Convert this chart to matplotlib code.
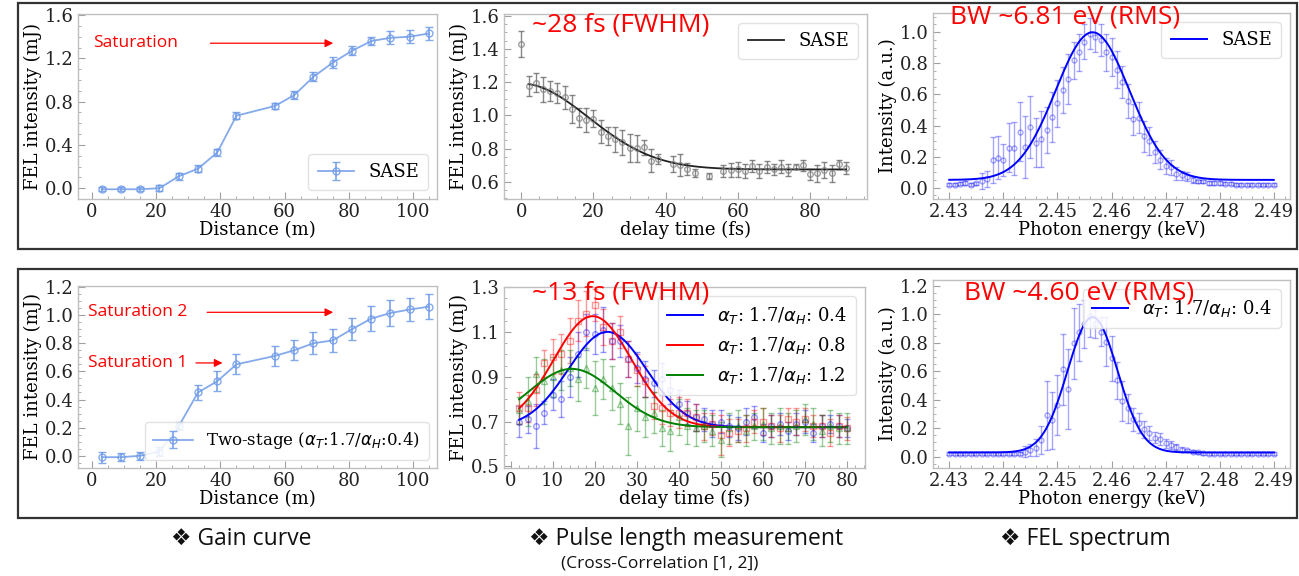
import numpy as np
import matplotlib
matplotlib.use('Agg')
import matplotlib.pyplot as plt
from matplotlib.ticker import MultipleLocator, AutoMinorLocator
from matplotlib.patches import Rectangle

# --- gain curve (distance in m, FEL intensity in mJ) ---
dist = [3, 9, 15, 21, 27, 33, 39, 45, 57, 63, 69, 75, 81, 87, 93, 99, 105]
gain_sase = [-0.01, -0.01, -0.01, 0.0, 0.11, 0.18, 0.33, 0.67, 0.76, 0.86,
             1.03, 1.16, 1.27, 1.36, 1.39, 1.40, 1.43]
gain_sase_err = [0.02, 0.02, 0.02, 0.03, 0.03, 0.03, 0.03, 0.03, 0.03, 0.04,
                 0.04, 0.05, 0.04, 0.04, 0.06, 0.06, 0.06]
gain_two = [-0.01, -0.01, 0.0, 0.03, 0.21, 0.45, 0.53, 0.65, 0.71, 0.75,
            0.80, 0.82, 0.90, 0.975, 1.015, 1.04, 1.06]
gain_two_err = [0.04, 0.03, 0.03, 0.03, 0.03, 0.05, 0.07, 0.07, 0.07, 0.07,
                0.08, 0.08, 0.08, 0.09, 0.09, 0.08, 0.09]

# --- SASE cross-correlation (delay in fs) ---
delay_sase = [0, 2, 4, 6, 8, 10, 12, 14, 16, 18, 20, 22, 24, 26, 28, 30, 32, 34,
              36, 38, 42, 44, 46, 48, 52, 56, 58, 60, 62, 64, 66, 68, 70, 72,
              74, 76, 78, 80, 82, 84, 86, 88, 90]
corr_sase = [1.43, 1.176, 1.196, 1.158, 1.144, 1.136, 1.108, 1.036, 0.986, 0.972,
             0.98, 0.901, 0.875, 0.855, 0.837, 0.801, 0.801, 0.807, 0.727, 0.737,
             0.704, 0.70, 0.676, 0.654, 0.634, 0.664, 0.67, 0.676, 0.664, 0.696,
             0.664, 0.69, 0.674, 0.69, 0.67, 0.69, 0.698, 0.646, 0.65, 0.67,
             0.65, 0.704, 0.684]
corr_sase_err = [0.078, 0.058, 0.056, 0.075, 0.06, 0.06, 0.07, 0.085, 0.058, 0.073,
                 0.052, 0.07, 0.055, 0.075, 0.075, 0.085, 0.08, 0.045, 0.07, 0.028,
                 0.048, 0.068, 0.038, 0.025, 0.02, 0.035, 0.04, 0.045, 0.04, 0.035,
                 0.043, 0.036, 0.035, 0.038, 0.035, 0.016, 0.033, 0.033, 0.053, 0.05,
                 0.05, 0.025, 0.035]
# fitted gaussian: offset, amplitude, centre, sigma ; fit range
fit_sase_delay = [0.674, 0.517, 0.0, 18.6]
fit_sase_delay_range = [2, 90]

# --- two-stage cross-correlation ---
delay_two = [2, 4, 6, 8, 10, 12, 14, 16, 18, 20, 22, 24, 26, 28, 30, 32, 34, 36, 38, 40,
             42, 44, 46, 48, 50, 52, 54, 56, 58, 60, 62, 64, 66, 68, 70, 72, 74, 76, 78, 80]
corr_04 = [0.70, 0.71, 0.68, 0.74, 0.82, 0.80, 0.90, 1.00, 1.10, 1.09,
           1.11, 1.06, 1.06, 0.98, 0.94, 0.89, 0.87, 0.89, 0.84, 0.78,
           0.74, 0.72, 0.71, 0.69, 0.70, 0.68, 0.67, 0.70, 0.72, 0.65,
           0.68, 0.69, 0.66, 0.69, 0.70, 0.65, 0.68, 0.69, 0.68, 0.67]
corr_04_err = [0.07, 0.06, 0.10, 0.05, 0.07, 0.08, 0.09, 0.10, 0.08, 0.09,
               0.10, 0.08, 0.07, 0.08, 0.07, 0.08, 0.06, 0.07, 0.06, 0.06,
               0.05, 0.06, 0.05, 0.06, 0.05, 0.05, 0.05, 0.06, 0.05, 0.04,
               0.05, 0.05, 0.04, 0.05, 0.05, 0.04, 0.05, 0.04, 0.05, 0.04]
corr_08 = [0.76, 0.76, 0.84, 0.96, 0.99, 1.00, 1.06, 1.15, 1.18, 1.22,
           1.12, 1.06, 1.10, 0.98, 0.93, 0.88, 0.77, 0.76, 0.74, 0.74,
           0.74, 0.72, 0.68, 0.69, 0.64, 0.65, 0.66, 0.67, 0.70, 0.70,
           0.68, 0.67, 0.71, 0.70, 0.71, 0.68, 0.68, 0.65, 0.68, 0.67]
corr_08_err = [0.07, 0.06, 0.07, 0.06, 0.08, 0.09, 0.10, 0.09, 0.10, 0.07,
               0.08, 0.08, 0.07, 0.08, 0.07, 0.07, 0.06, 0.07, 0.06, 0.07,
               0.06, 0.06, 0.06, 0.05, 0.09, 0.06, 0.05, 0.06, 0.05, 0.06,
               0.05, 0.06, 0.05, 0.06, 0.05, 0.05, 0.05, 0.06, 0.05, 0.05]
corr_12 = [0.75, 0.79, 0.91, 0.88, 0.90, 0.93, 0.94, 0.89, 0.94, 0.85,
           0.89, 0.85, 0.78, 0.68, 0.76, 0.72, 0.74, 0.67, 0.66, 0.72,
           0.68, 0.67, 0.68, 0.66, 0.62, 0.67, 0.68, 0.66, 0.68, 0.69,
           0.67, 0.68, 0.67, 0.68, 0.71, 0.69, 0.66, 0.68, 0.67, 0.67]
corr_12_err = [0.06, 0.11, 0.08, 0.10, 0.09, 0.09, 0.08, 0.10, 0.09, 0.12,
               0.09, 0.10, 0.09, 0.13, 0.10, 0.09, 0.09, 0.08, 0.09, 0.08,
               0.08, 0.08, 0.07, 0.07, 0.08, 0.07, 0.07, 0.07, 0.06, 0.07,
               0.07, 0.08, 0.07, 0.07, 0.07, 0.07, 0.07, 0.07, 0.07, 0.07]
fit_04 = [0.675, 0.425, 23.0, 9.3]
fit_08 = [0.675, 0.495, 19.5, 9.3]
fit_12 = [0.675, 0.26, 14.5, 10.3]
fit_two_range = [2, 80]

# --- FEL spectra (photon energy in keV) ---
energy = [round(2.430 + 0.001 * i, 3) for i in range(61)]
spec_sase = [0.02, 0.02, 0.024, 0.03, 0.02, 0.028, 0.043, 0.054, 0.178, 0.193,
             0.178, 0.258, 0.253, 0.36, 0.264, 0.388, 0.29, 0.311, 0.371, 0.457,
             0.543, 0.629, 0.697, 0.82, 0.87, 0.94, 0.99, 0.97, 0.95, 0.87,
             0.84, 0.76, 0.68, 0.56, 0.44, 0.45, 0.33, 0.30, 0.23, 0.18,
             0.14, 0.13, 0.09, 0.08, 0.07, 0.05, 0.04, 0.04, 0.03, 0.03,
             0.03, 0.025, 0.025, 0.02, 0.02, 0.02, 0.02, 0.02, 0.02, 0.02, 0.02]
spec_sase_err = [0.01, 0.01, 0.01, 0.01, 0.01, 0.01, 0.05, 0.05, 0.15, 0.14,
                 0.10, 0.16, 0.17, 0.19, 0.20, 0.20, 0.16, 0.18, 0.15, 0.16,
                 0.15, 0.15, 0.16, 0.12, 0.12, 0.11, 0.10, 0.10, 0.10, 0.12,
                 0.12, 0.12, 0.10, 0.11, 0.10, 0.10, 0.10, 0.09, 0.07, 0.06,
                 0.05, 0.05, 0.04, 0.03, 0.03, 0.02, 0.01, 0.01, 0.01, 0.01,
                 0.01, 0.01, 0.01, 0.01, 0.01, 0.01, 0.01, 0.01, 0.01, 0.01, 0.01]
spec_two = [0.02, 0.02, 0.02, 0.02, 0.02, 0.02, 0.02, 0.02, 0.02, 0.02,
            0.02, 0.02, 0.02, 0.02, 0.035, 0.047, 0.063, 0.117, 0.29, 0.257,
            0.363, 0.613, 0.475, 0.795, 0.872, 0.93, 0.99, 0.93, 0.877, 0.807,
            0.69, 0.538, 0.39, 0.34, 0.264, 0.234, 0.194, 0.164, 0.133, 0.124,
            0.094, 0.082, 0.07, 0.05, 0.047, 0.035, 0.03, 0.025, 0.02, 0.02,
            0.02, 0.02, 0.02, 0.02, 0.02, 0.02, 0.02, 0.02, 0.02, 0.02, 0.02]
spec_two_err = [0.01, 0.01, 0.01, 0.01, 0.01, 0.01, 0.01, 0.01, 0.01, 0.01,
                0.01, 0.01, 0.01, 0.01, 0.04, 0.04, 0.06, 0.10, 0.24, 0.20,
                0.21, 0.25, 0.28, 0.25, 0.20, 0.17, 0.15, 0.10, 0.10, 0.17,
                0.16, 0.13, 0.14, 0.10, 0.08, 0.07, 0.06, 0.05, 0.04, 0.04,
                0.03, 0.03, 0.02, 0.02, 0.01, 0.01, 0.01, 0.01, 0.01, 0.01,
                0.01, 0.01, 0.01, 0.01, 0.01, 0.01, 0.01, 0.01, 0.01, 0.01, 0.01]
fit_spec_sase = [0.05, 0.95, 2.4565, 0.00681]
fit_spec_two = [0.03, 0.95, 2.4565, 0.0046]

W, H = 1299, 576
plt.rcParams['font.family'] = 'serif'
plt.rcParams['font.serif'] = ['DejaVu Serif']
SANS = ['Open Sans', 'DejaVu Sans']


def gauss(x, p):
    off, amp, c, s = p
    return off + amp * np.exp(-(x - c) ** 2 / (2 * s ** 2))


def ax_at(fig, left, top, right, bottom):
    return fig.add_axes([left / W, 1 - bottom / H, (right - left) / W, (bottom - top) / H])


def style(ax):
    for s in ax.spines.values():
        s.set_color('#c0c0c0')
        s.set_linewidth(1.0)
    ax.tick_params(which='both', direction='in', color='#a0a0a0',
                   labelcolor='#222222', labelsize=13, top=False, right=False)
    ax.tick_params(which='major', length=5, pad=3)
    ax.tick_params(which='minor', length=2.5)
    ax.xaxis.set_minor_locator(AutoMinorLocator())
    ax.yaxis.set_minor_locator(AutoMinorLocator())


def leg(ax, loc, size=13, **kw):
    return ax.legend(loc=loc, fontsize=size, frameon=True, fancybox=True, framealpha=0.85,
                     edgecolor='#dddddd', borderpad=0.5, **kw)


fig = plt.figure(figsize=(W / 100, H / 100), dpi=100)

# outer boxes
for top, bot in [(3, 249), (269, 518)]:
    fig.add_artist(Rectangle((18 / W, 1 - bot / H), 1279 / W, (bot - top) / H,
                             transform=fig.transFigure, fill=False, ec='#333333', lw=1.6))

gain_col = '#6f9be8'
arrow = dict(arrowstyle='-|>', color='red', lw=0.9, mutation_scale=12)

# ---- top-left: gain curve SASE ----
ax = ax_at(fig, 78, 14, 437, 199)
ax.errorbar(dist, gain_sase, yerr=gain_sase_err, color=gain_col, marker='o', mfc='none',
            ms=5, capsize=3, lw=1.3, alpha=0.85, label='SASE')
ax.set_xlim(-4.4, 107.5)
ax.set_ylim(-0.1, 1.61)
ax.xaxis.set_major_locator(MultipleLocator(20))
ax.yaxis.set_major_locator(MultipleLocator(0.4))
ax.yaxis.set_major_formatter('{x:.1f}')
style(ax)
ax.set_xlabel('Distance (m)', fontsize=13, labelpad=0)
ax.set_ylabel('FEL intensity (mJ)', fontsize=13, labelpad=2)
leg(ax, 'lower right')
ax.text(0.2, 1.34, 'Saturation', color='red', fontsize=12.5, family=SANS, va='center')
ax.annotate('', xy=(76, 1.34), xytext=(36, 1.34), arrowprops=arrow)

# ---- top-middle: cross-correlation SASE ----
ax = ax_at(fig, 504, 14, 867, 199)
ax.errorbar(delay_sase, corr_sase, yerr=corr_sase_err, fmt='o', mfc='none', mec='#808080',
            ecolor='#606060', ms=4, capsize=2.5, elinewidth=1.0, alpha=0.75)
xf = np.linspace(fit_sase_delay_range[0], fit_sase_delay_range[1], 300)
ax.plot(xf, gauss(xf, fit_sase_delay), color='#222222', lw=1.3, label='SASE')
ax.set_xlim(-4.8, 95.8)
ax.set_ylim(0.496, 1.61)
ax.xaxis.set_major_locator(MultipleLocator(20))
ax.yaxis.set_major_locator(MultipleLocator(0.2))
ax.yaxis.set_major_formatter('{x:.1f}')
style(ax)
ax.set_xlabel('delay time (fs)', fontsize=13, labelpad=0)
ax.set_ylabel('FEL intensity (mJ)', fontsize=13, labelpad=2)
leg(ax, 'upper right')

# ---- top-right: spectrum SASE ----
ax = ax_at(fig, 933, 13, 1290, 199)
ax.errorbar(energy, spec_sase, yerr=spec_sase_err, fmt='o', mfc='none', mec='blue',
            ecolor='blue', ms=3.5, capsize=2, elinewidth=1.0, alpha=0.35)
xf = np.linspace(energy[0], energy[-1], 400)
ax.plot(xf, gauss(xf, fit_spec_sase), color='blue', lw=1.4, label='SASE')
ax.set_xlim(2.427, 2.493)
ax.set_ylim(-0.073, 1.124)
ax.xaxis.set_major_locator(MultipleLocator(0.01))
ax.xaxis.set_major_formatter('{x:.2f}')
ax.yaxis.set_major_locator(MultipleLocator(0.2))
ax.yaxis.set_major_formatter('{x:.1f}')
style(ax)
ax.set_xlabel('Photon energy (keV)', fontsize=13, labelpad=0)
ax.set_ylabel('Intensity (a.u.)', fontsize=13, labelpad=2)
leg(ax, 'upper right')

# ---- bottom-left: gain curve two-stage ----
ax = ax_at(fig, 78, 286, 437, 468)
ax.errorbar(dist, gain_two, yerr=gain_two_err, color=gain_col, marker='o', mfc='none',
            ms=5, capsize=3, lw=1.3, alpha=0.85,
            label=r'Two-stage ($\alpha_T$:1.7/$\alpha_H$:0.4)')
ax.set_xlim(-4.4, 107.5)
ax.set_ylim(-0.087, 1.207)
ax.xaxis.set_major_locator(MultipleLocator(20))
ax.yaxis.set_major_locator(MultipleLocator(0.2))
ax.yaxis.set_major_formatter('{x:.1f}')
style(ax)
ax.set_xlabel('Distance (m)', fontsize=13, labelpad=0)
ax.set_ylabel('FEL intensity (mJ)', fontsize=13, labelpad=2)
leg(ax, 'lower right', size=12, handlelength=2.4)
ax.text(-1.2, 1.02, 'Saturation 2', color='red', fontsize=12.5, family=SANS, va='center')
ax.annotate('', xy=(76, 1.02), xytext=(35, 1.02), arrowprops=arrow)
ax.text(-1.2, 0.66, 'Saturation 1', color='red', fontsize=12.5, family=SANS, va='center')
ax.annotate('', xy=(41.5, 0.66), xytext=(31.5, 0.66), arrowprops=arrow)

# ---- bottom-middle: cross-correlation two-stage ----
ax = ax_at(fig, 504, 287, 865, 468)
xf = np.linspace(fit_two_range[0], fit_two_range[1], 300)
series = [(corr_04, corr_04_err, fit_04, 'blue', 'o', '0.4'),
          (corr_08, corr_08_err, fit_08, 'red', 's', '0.8'),
          (corr_12, corr_12_err, fit_12, 'green', '^', '1.2')]
for vals, err, fp, col, mk, ah in series:
    ax.errorbar(delay_two, vals, yerr=err, fmt=mk, mfc='none', mec=col, ecolor=col,
                ms=4, capsize=2, elinewidth=1.0, alpha=0.4)
for vals, err, fp, col, mk, ah in series:
    ax.plot(xf, gauss(xf, fp), color=col, lw=1.4,
            label=r'$\alpha_T$: 1.7/$\alpha_H$: ' + ah)
ax.set_xlim(-1.6, 84.3)
ax.set_ylim(0.493, 1.3)
ax.xaxis.set_major_locator(MultipleLocator(10))
ax.set_yticks([0.5, 0.7, 0.9, 1.1, 1.3])
ax.yaxis.set_major_formatter('{x:.1f}')
style(ax)
ax.set_xlabel('delay time (fs)', fontsize=13, labelpad=0)
ax.set_ylabel('FEL intensity (mJ)', fontsize=13, labelpad=2)
leg(ax, 'upper right')

# ---- bottom-right: spectrum two-stage ----
ax = ax_at(fig, 933, 280, 1290, 468)
ax.errorbar(energy, spec_two, yerr=spec_two_err, fmt='o', mfc='none', mec='blue',
            ecolor='blue', ms=3.5, capsize=2, elinewidth=1.0, alpha=0.35)
xf = np.linspace(energy[0], energy[-1], 400)
ax.plot(xf, gauss(xf, fit_spec_two), color='blue', lw=1.4,
        label=r'$\alpha_T$: 1.7/$\alpha_H$: 0.4')
ax.set_xlim(2.427, 2.493)
ax.set_ylim(-0.079, 1.24)
ax.xaxis.set_major_locator(MultipleLocator(0.01))
ax.xaxis.set_major_formatter('{x:.2f}')
ax.yaxis.set_major_locator(MultipleLocator(0.2))
ax.yaxis.set_major_formatter('{x:.1f}')
style(ax)
ax.set_xlabel('Photon energy (keV)', fontsize=13, labelpad=0)
ax.set_ylabel('Intensity (a.u.)', fontsize=13, labelpad=2)
leg(ax, 'upper right')

# big red labels
for x, y, s in [(532, 31, '~28 fs (FWHM)'), (950, 24, 'BW ~6.81 eV (RMS)'),
                (532, 300, '~13 fs (FWHM)'), (964, 300, 'BW ~4.60 eV (RMS)')]:
    fig.text(x / W, 1 - y / H, s, color='red', fontsize=19, family=SANS,
             va='baseline', ha='left', zorder=10)

# captions
for x, s in [(241, '\u2756 Gain curve'), (686, '\u2756 Pulse length measurement'),
             (1085, '\u2756 FEL spectrum')]:
    fig.text(x / W, 1 - 539 / H, s, fontsize=16.5, family=SANS, ha='center', va='center',
             color='#111111')
fig.text(660 / W, 1 - 563 / H, '(Cross-Correlation [1, 2])', fontsize=12.5, family=SANS,
         ha='center', va='center', color='#111111')

fig.savefig('out.png', dpi=100)
